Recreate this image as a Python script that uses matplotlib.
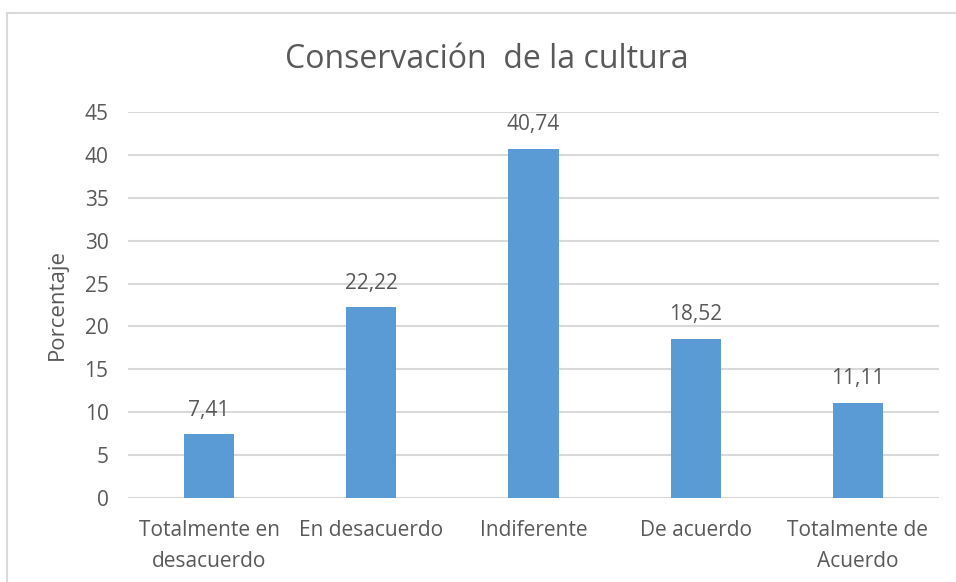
import matplotlib.pyplot as plt
from matplotlib.patches import Rectangle

categorias = ['Totalmente en\ndesacuerdo', 'En desacuerdo', 'Indiferente',
              'De acuerdo', 'Totalmente de\nAcuerdo']
porcentajes = [7.41, 22.22, 40.74, 18.52, 11.11]
etiquetas = ['7,41', '22,22', '40,74', '18,52', '11,11']

plt.rcParams['font.family'] = ['Open Sans', 'DejaVu Sans']
gris = '#595959'

fig = plt.figure(figsize=(9.56, 5.82), dpi=100)
ax = fig.add_axes([128 / 956, 1 - 498 / 582, 811 / 956, 386 / 582])

# marco gris del grafico (recortado a la derecha y abajo)
fig.patches.append(Rectangle((7 / 956, -0.1), 1.2, 1.1 - 13 / 582,
                             transform=fig.transFigure, fill=False,
                             edgecolor='#D9D9D9', linewidth=1.5))

x = range(len(categorias))
barras = ax.bar(x, porcentajes, width=0.31, color='#5B9BD5', zorder=3)
for b, t in zip(barras, etiquetas):
    ax.annotate(t, (b.get_x() + b.get_width() / 2, b.get_height()),
                xytext=(0, 10), textcoords='offset points',
                ha='center', va='bottom', fontsize=15, color=gris)

ax.set_xlim(-0.5, len(categorias) - 0.5)
ax.set_ylim(0, 45)
ax.set_yticks(range(0, 50, 5))
ax.set_xticks(list(x))
ax.set_xticklabels(categorias, fontsize=15, color=gris, linespacing=1.6)
ax.tick_params(axis='y', labelsize=15, labelcolor=gris, length=0, pad=14)
ax.tick_params(axis='x', length=0, pad=16)
ax.yaxis.grid(True, color='#D9D9D9', linewidth=1.5, zorder=0)
ax.set_axisbelow(True)
for s in ax.spines.values():
    s.set_visible(False)

ax.set_ylabel('Porcentaje', fontsize=16, color=gris)
ax.yaxis.set_label_coords(68 / 956, 1 - 305 / 582, transform=fig.transFigure)
fig.text(487 / 956, 1 - 60 / 582, 'Conservación  de la cultura',
         ha='center', va='center', fontsize=23, color=gris)

plt.savefig('out.png', dpi=100)
